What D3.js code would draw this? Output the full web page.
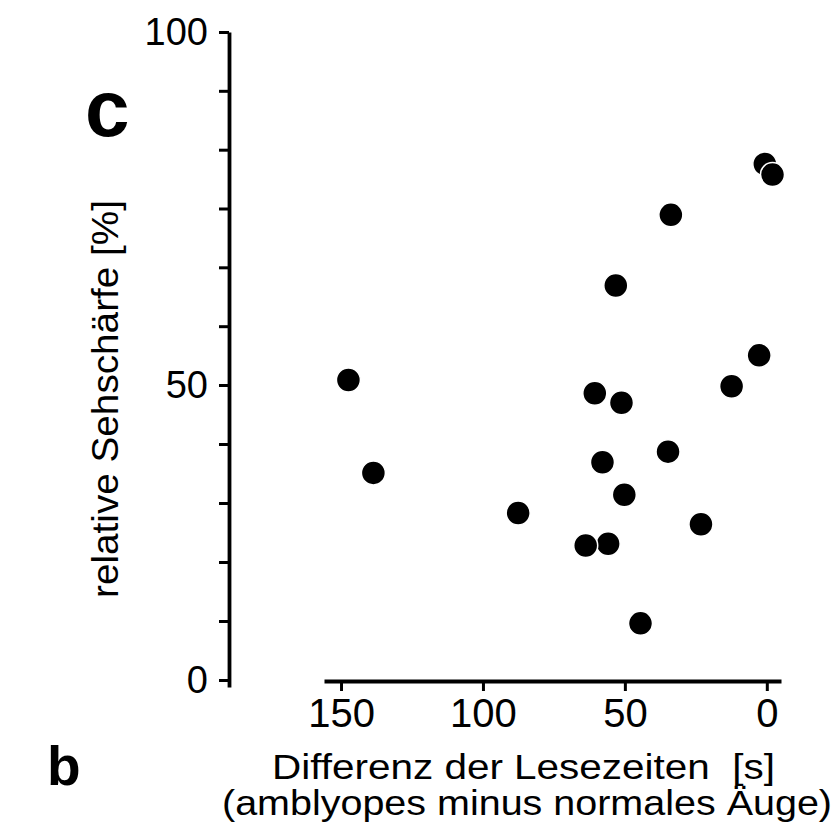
<!DOCTYPE html>
<html>
<head>
<meta charset="utf-8">
<script src="https://cdn.jsdelivr.net/npm/d3@7"></script>
<style>
  html, body { margin: 0; padding: 0; background: #fff; }
  svg { display: block; }
  text { font-family: "Liberation Sans", Arial, Helvetica, sans-serif; fill: #000; }
</style>
</head>
<body>
<div id="chart"></div>
<script>
(function () {
  'use strict';

  // x: Differenz der Lesezeiten [s] (amblyopes minus normales Auge)
  // y: relative Sehschärfe [%]
  // order matters a little: overlapping dots are drawn later on top
  var DIFF_TIMES = [147.4, 138.6, 87.6, 55.9, 63.8, 60.6, 51.2, 57.9, 50.2, 34.8, 44.5, 23.2, 12.4, 2.7, 53.2, 33.8, 0.7, -2.0];
  var ACUITY     = [50.7, 35.1, 28.3, 23.1, 22.8, 48.6, 47.0, 36.9, 31.4, 38.7, 9.6, 26.4, 49.8, 54.2, 64.1, 74.1, 81.3, 79.8];

  var X_TICKS = [150, 100, 50, 0];
  // the printed y axis has 5 tick steps below 50 but 6 above it
  var Y_TICKS = [0, 10, 20, 30, 40, 50, 58.33, 66.67, 75, 83.33, 91.67, 100];
  var Y_LABELED = [0, 50, 100];

  var WIDTH = 835;
  var HEIGHT = 830;
  var COLOR_INK = '#000';
  var DOT_RADIUS = 12;
  var AXIS_STROKE = 3.8;

  var svg = d3.select('#chart').append('svg')
    .attr('width', WIDTH)
    .attr('height', HEIGHT)
    .attr('viewBox', '0 0 ' + WIDTH + ' ' + HEIGHT);

  svg.append('rect').attr('width', WIDTH).attr('height', HEIGHT).attr('fill', '#fff');

  var x = d3.scaleLinear().domain([156, -5]).range([324, 781]);
  var y = d3.scaleLinear().domain([-1.2, 0, 50, 100]).range([687, 680, 385, 32]);

  var yAxis = d3.axisLeft(y)
    .tickValues(Y_TICKS)
    .tickSize(10)
    .tickSizeOuter(0)
    .tickPadding(11)
    .tickFormat(function (d) { return Y_LABELED.indexOf(d) !== -1 ? String(d) : ''; });

  var xAxis = d3.axisBottom(x)
    .tickValues(X_TICKS)
    .tickSize(10)
    .tickSizeOuter(0)
    .tickPadding(8)
    .tickFormat(function (d) { return String(d); });

  var gy = svg.append('g').attr('transform', 'translate(229,0)').call(yAxis);
  var gx = svg.append('g').attr('transform', 'translate(0,681)').call(xAxis);

  [gy, gx].forEach(function (g) {
    g.attr('font-family', null).attr('font-size', null);
    g.select('.domain').attr('stroke', COLOR_INK).attr('stroke-width', AXIS_STROKE);
    g.selectAll('.tick line').attr('stroke', COLOR_INK).attr('stroke-width', 3);
    g.selectAll('.tick text').attr('fill', COLOR_INK);
  });
  gy.selectAll('.tick text').style('font-size', '38px');
  gx.selectAll('.tick text').style('font-size', '40px');

  var points = DIFF_TIMES.map(function (d, i) { return { diff: d, acuity: ACUITY[i] }; });

  svg.append('g').selectAll('circle')
    .data(points)
    .join('circle')
    .attr('cx', function (d) { return x(d.diff); })
    .attr('cy', function (d) { return y(d.acuity); })
    .attr('r', DOT_RADIUS)
    .attr('fill', COLOR_INK)
    .attr('stroke', '#fff')
    .attr('stroke-width', 1.5);

  // axis titles, stretched to the widths of the printed lettering
  svg.append('text')
    .attr('transform', 'translate(118,399) rotate(-90)')
    .attr('text-anchor', 'middle')
    .attr('textLength', 398)
    .attr('lengthAdjust', 'spacingAndGlyphs')
    .style('font-size', '36px')
    .text('relative Sehschärfe [%]');

  svg.append('text')
    .attr('x', 272)
    .attr('y', 779)
    .attr('textLength', 503)
    .attr('lengthAdjust', 'spacingAndGlyphs')
    .style('font-size', '35px')
    .style('white-space', 'pre')
    .text('Differenz der Lesezeiten  [s]');

  svg.append('text')
    .attr('x', 222)
    .attr('y', 815)
    .attr('textLength', 610)
    .attr('lengthAdjust', 'spacingAndGlyphs')
    .style('font-size', '35px')
    .text('(amblyopes minus normales Äuge)');

  // panel letters
  svg.append('text')
    .attr('x', 85)
    .attr('y', 136)
    .style('font-size', '80px')
    .style('font-weight', 'bold')
    .text('c');

  svg.append('text')
    .attr('x', 47)
    .attr('y', 785)
    .style('font-size', '55px')
    .style('font-weight', 'bold')
    .text('b');
})();
</script>
</body>
</html>
